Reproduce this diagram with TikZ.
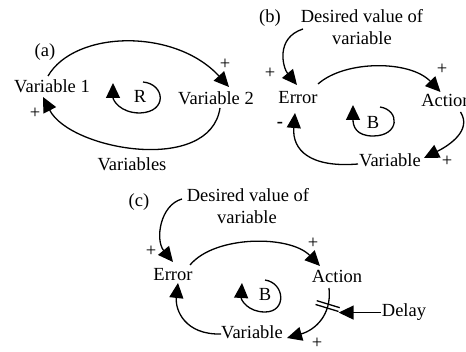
\documentclass[tikz,border=0pt]{standalone}
\usepackage{fontspec}
\setmainfont{Liberation Serif}
\usetikzlibrary{arrows.meta}
\begin{document}
\begin{tikzpicture}[x=1pt,y=-1pt,
  font=\fontsize{18.5}{22}\selectfont,
  lbl/.style={anchor=base,inner sep=1pt},
  sgn/.style={inner sep=0pt},
  link/.style={line width=1.3pt,-{Triangle[length=15pt,width=14pt]}},
  plain/.style={line width=1.3pt}]
\path[use as bounding box] (0,0) rectangle (466,352);

% ---------- (a) reinforcing loop ----------
\node[lbl] (la) at (45,57) {(a)};
\node[lbl] (v1) at (52,93) {Variable 1};
\node[lbl] (v2) at (216,105) {Variable 2};
\node[lbl] (R) at (140,103) {R};
\node[lbl] (vars) at (132,171) {Variables};
\node[sgn] (pa1) at (225,64) {+};
\node[sgn] (pa2) at (35,113) {+};
\draw[link] ([shift={(-4,-17)}]v1.base) .. controls (75,30) and (175,28) .. ([shift={(13,-18)}]v2.base);
\draw[link] ([shift={(4,3)}]v2.base) .. controls (210,175) and (70,150) .. ([shift={(-9,4)}]v1.base);
\draw[link] (143,82) .. controls (165,84) and (168,112) .. (140,113)
  .. controls (120,113) and (113,100) .. (113,83);

% ---------- (b) balancing loop ----------
\node[lbl] (lb) at (270,23) {(b)};
\node[lbl] (db1) at (362,23) {Desired value of};
\node[lbl] (db2) at (362,45) {variable};
\node[lbl] (eb) at (298,104) {Error};
\node[lbl] (ab) at (446.5,107) {Action};
\node[lbl] (vb) at (390,167) {Variable};
\node[lbl] (Bb) at (373,129) {B};
\node[sgn] (pb1) at (270,73) {+};
\node[sgn] (pb2) at (442,69) {+};
\node[sgn] (pb3) at (447,161) {+};
\node[sgn] (mb) at (280,125) {\textbf{-}};
\draw[link] ([shift={(-59,6)}]db1.base) .. controls (275,38) and (283,68) .. ([shift={(-1,-19)}]eb.base);
\draw[link] ([shift={(20,-20)}]eb.base) .. controls (345,60) and (410,60) .. ([shift={(-6,-15)}]ab.base);
\draw[link] ([shift={(14,5)}]ab.base) .. controls (472,130) and (450,145) .. ([shift={(34,-9)}]vb.base);
\draw[link] ([shift={(-32,-3)}]vb.base) .. controls (310,168) and (292,150) .. ([shift={(-3,9)}]eb.base);
\draw[link] (380,107) .. controls (400,110) and (400,136) .. (373,136)
  .. controls (356,136) and (353,126) .. (353,105);

% ---------- (c) balancing loop with delay ----------
\node[lbl] (lc) at (139,207) {(c)};
\node[lbl] (dc1) at (248,202) {Desired value of};
\node[lbl] (dc2) at (247,224) {variable};
\node[lbl] (ec) at (173,281) {Error};
\node[lbl] (ac) at (337,283) {Action};
\node[lbl] (vc) at (252,339) {Variable};
\node[lbl] (Bc) at (265,301) {B};
\node[lbl] (delay) at (404,317) {Delay};
\node[sgn] (pc1) at (151,251) {+};
\node[sgn] (pc2) at (313,243) {+};
\node[sgn] (pc3) at (317,343) {+};
\draw[link] ([shift={(-66,-3)}]dc1.base) .. controls (160,205) and (155,240) .. ([shift={(0,-19)}]ec.base);
\draw[link] ([shift={(17,-16)}]ec.base) .. controls (215,235) and (290,235) .. ([shift={(-17,-17)}]ac.base);
\draw[link] ([shift={(-8,5)}]ac.base) .. controls (332,315) and (315,330)
  .. coordinate[pos=0.25] (dm) ([shift={(35,-1)}]vc.base);
\draw[link] ([shift={(-31,-5)}]vc.base) .. controls (185,335) and (175,310) .. ([shift={(5,2)}]ec.base);
\draw[link] (265,280) .. controls (285,283) and (287,312) .. (265,312)
  .. controls (248,312) and (241,300) .. (242,283);
% delay mark across the action link
\draw[plain] ([shift={(-12.1,-1.6)}]dm) -- ([shift={(10.9,5.4)}]dm);
\draw[plain] ([shift={(-10.9,-5.4)}]dm) -- ([shift={(12.1,1.6)}]dm);
\coordinate (dmtip) at ([shift={(11,6)}]dm);
\draw[link] (delay.west) -- (delay.west -| dmtip);
\end{tikzpicture}
\end{document}
